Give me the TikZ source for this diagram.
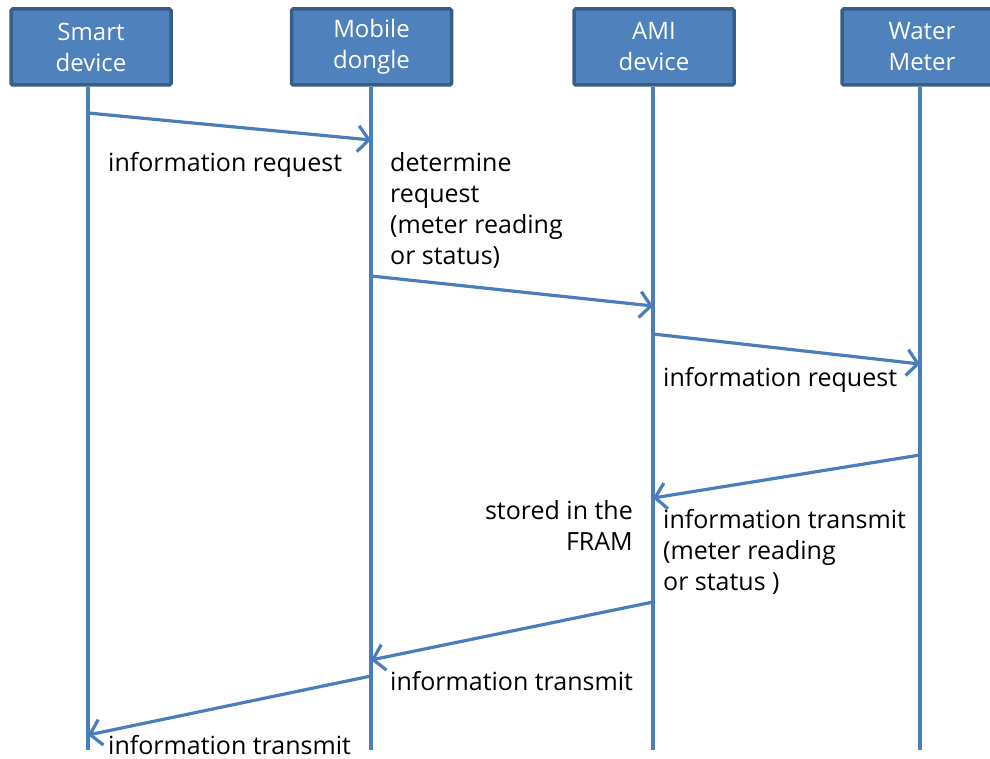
\documentclass[tikz,border=0pt]{standalone}
\usepackage{fontspec}
\setmainfont{Open Sans}
\usetikzlibrary{arrows.meta}
\definecolor{boxfill}{HTML}{4F81BD}
\definecolor{boxline}{HTML}{385D8A}
\definecolor{flow}{HTML}{4A7EBB}
\tikzset{
  actor/.style={draw=boxline, line width=3.5pt, fill=boxfill, minimum width=160pt,
    minimum height=76pt, text=white, align=center, font=\fontsize{24}{31}\selectfont,
    inner sep=0pt, rounded corners=1.5pt},
  lifeline/.style={draw=flow, line width=3.2pt},
  msg/.style={draw=flow, line width=3.2pt,
    -{Straight Barb[length=11pt, width=26pt, line width=3.2pt]}},
  lbl/.style={font=\fontsize{25}{31}\selectfont, inner sep=0pt, text=black},
}
\begin{document}
\begin{tikzpicture}[x=1pt, y=-1pt]
\useasboundingbox (0,0) rectangle (990,759);
\begin{scope}
\clip (0,0) rectangle (990,759);
% participants
\node[actor] (smart) at (91,47) {Smart\\device};
\node[actor] (dongle) at (371.5,47) {Mobile\\dongle};
\node[actor] (ami) at (654,47) {AMI\\device};
\node[actor] (meter) at (922,47) {Water\\Meter};
\end{scope}
% lifeline ends
\coordinate (smartE) at (88,750);
\coordinate (dongleE) at (371,750);
\coordinate (amiE) at (653,750);
\coordinate (meterE) at (920,750);
\draw[lifeline] (smart.south -| smartE) -- (smartE);
\draw[lifeline] (dongle.south -| dongleE) -- (dongleE);
\draw[lifeline] (ami.south -| amiE) -- (amiE);
\draw[lifeline] (meter.south -| meterE) -- (meterE);
% message anchor points on the lifelines
\coordinate (s1) at (88,113);   \coordinate (d1) at (371,140);
\coordinate (d2) at (371,276);  \coordinate (a2) at (653,306);
\coordinate (a3) at (653,334);  \coordinate (m3) at (920,364);
\coordinate (m4) at (920,455);  \coordinate (a4) at (653,498);
\coordinate (a5) at (653,602);  \coordinate (d5) at (371,660);
\coordinate (d6) at (371,676);  \coordinate (s6) at (88,735);
% messages
\draw[msg] (s1) -- (d1);
\draw[msg] (d2) -- (a2);
\draw[msg] (a3) -- (m3);
\draw[msg] (m4) -- (a4);
\draw[msg] (a5) -- (d5);
\draw[msg] (d6) -- (s6);
% labels (multi-line labels are placed by the baseline of their last line)
\node[lbl, anchor=base west] (t1) at (108,172) {information request};
\node[lbl, anchor=base west, align=left] (t2) at (390,265)
  {determine\\request\\(meter reading\\or status)};
\node[lbl, anchor=base west] (t3) at (663,386) {information request};
\node[lbl, anchor=base east, align=right] (t4) at (633,550) {stored in the\\FRAM};
\node[lbl, anchor=base west, align=left] (t5) at (663,590)
  {information transmit\\(meter reading\\or status )};
\node[lbl, anchor=base west] (t6) at (390,690) {information transmit};
\node[lbl, anchor=base west] (t7) at (108,754) {information transmit};
\end{tikzpicture}
\end{document}
